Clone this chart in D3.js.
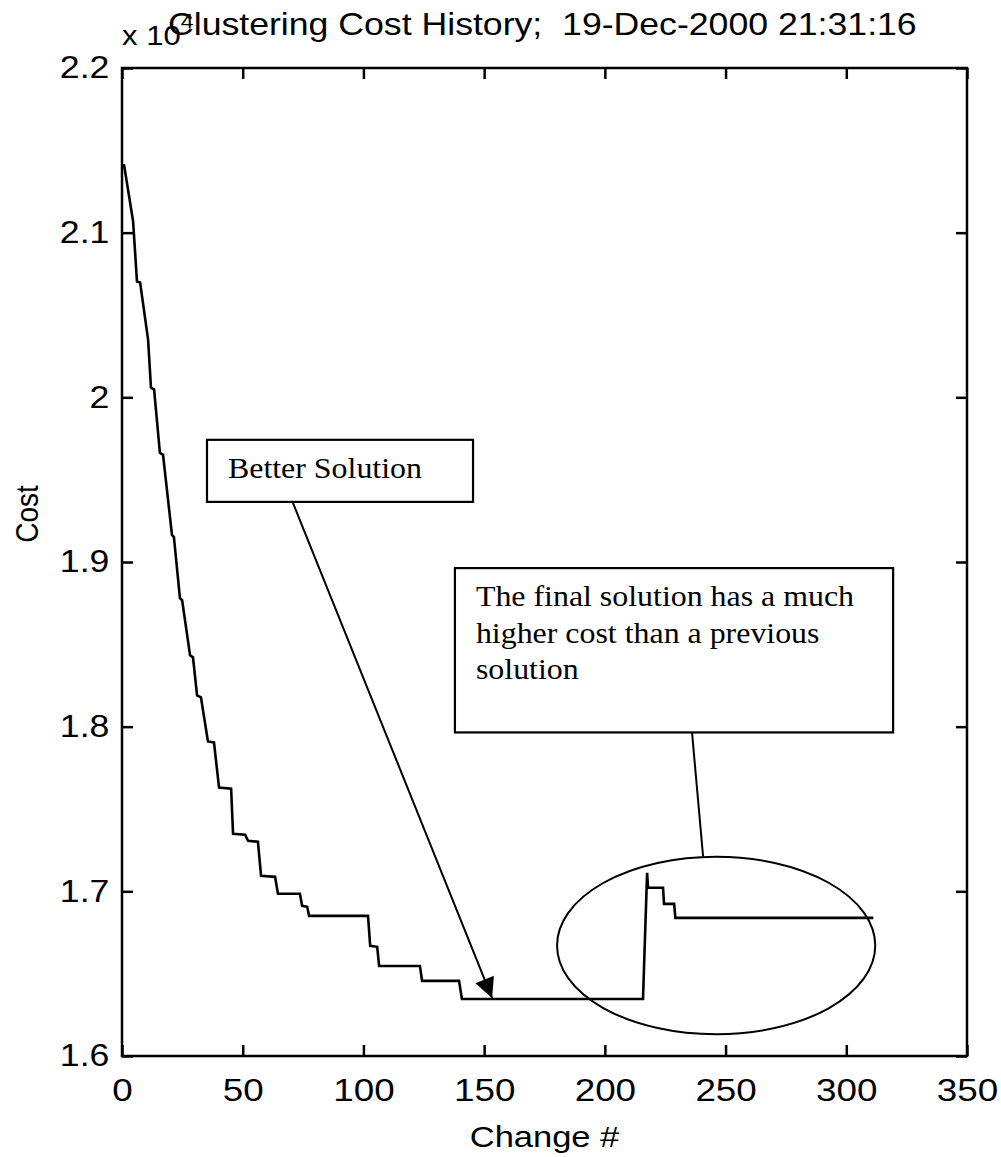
<!DOCTYPE html>
<html>
<head>
<meta charset="utf-8">
<script src="https://d3js.org/d3.v7.min.js"></script>
<style>
  body { margin: 0; background: #fff; }
  svg { display: block; }
  .axis text { font-family: "Liberation Sans", Arial, sans-serif; fill: #000; }
  .axis line { stroke: #000; stroke-width: 2.5; }
  .note { font-family: "Liberation Serif", "Times New Roman", serif; font-size: 29px; fill: #000; }
</style>
</head>
<body>
<div id="chart"></div>
<script>
// cost history (change number vs cost)
const changeNum = [0.8, 4.6, 6.2, 7.5, 10.8, 12.0, 13.3, 15.7, 17.0, 20.7, 21.5, 24.0, 24.9, 28.2, 29.4,
  31.1, 32.7, 35.6, 38.1, 40.2, 45.2, 46.0, 51.0, 52.2, 56.3, 57.6, 63.4, 64.6, 73.7, 74.6, 76.7, 77.5,
  101.9, 102.8, 105.7, 106.5, 123.4, 124.3, 139.6, 140.8, 215.8, 217.5, 217.9, 224.1, 224.5, 228.7,
  229.2, 311.2];
const cost = [21416, 21069, 20704, 20698, 20351, 20059, 20047, 19663, 19651, 19164, 19152, 18780, 18768,
  18433, 18421, 18190, 18178, 17910, 17904, 17630, 17624, 17350, 17344, 17307, 17301, 17094, 17088,
  16985, 16985, 16912, 16906, 16851, 16851, 16669, 16663, 16547, 16547, 16456, 16456, 16346, 16346,
  17113, 17022, 17022, 16924, 16924, 16839, 16839];

const xTicks = [0, 50, 100, 150, 200, 250, 300, 350];
const yTicks = [16000, 17000, 18000, 19000, 20000, 21000, 22000];

const titleText = "Clustering Cost History;  19-Dec-2000 21:31:16";
const xLabel = "Change #";
const yLabel = "Cost";

// annotations, in data units
const betterBox = { x0: 35.2, x1: 145.4, y0: 19742, y1: 19365, lines: ["Better Solution"] };
const finalBox = { x0: 137.9, x1: 319.4, y0: 18963, y1: 17965,
  lines: ["The final solution has a much", "higher cost than a previous", "solution"] };
const betterArrow = { from: [66.3, 19523], to: [153.3, 16352] };
const finalLine = { from: [236.1, 17965], to: [240.7, 17210] };
const ellipse = { cx: 246.1, cy: 16671, rx: 65.9, ry: 539 };

const width = 1001, height = 1157;
const margin = { top: 68, right: 34, bottom: 101, left: 122 };
// the scanned figure is a bit wider than tall, so text is stretched sideways
const sx = 1.15;

const svg = d3.select("#chart").append("svg")
  .attr("width", width)
  .attr("height", height);

svg.append("rect").attr("width", width).attr("height", height).attr("fill", "#fff");

const x = d3.scaleLinear().domain([0, 350]).range([margin.left, width - margin.right]);
const y = d3.scaleLinear().domain([16000, 22000]).range([height - margin.bottom, margin.top]);

const tickLen = 11;
const fmt = d => String(+(d / 1e4).toFixed(1));

// axes with inward ticks on all four sides
svg.append("g").attr("class", "axis")
  .attr("transform", `translate(0,${y(16000)})`)
  .call(d3.axisBottom(x).tickValues(xTicks).tickSizeInner(-tickLen).tickSizeOuter(0).tickPadding(22))
  .call(g => g.select(".domain").remove())
  .call(g => g.selectAll("text").style("font-size", "32px").attr("transform", `scale(${sx},1)`));

svg.append("g").attr("class", "axis")
  .attr("transform", `translate(0,${y(22000)})`)
  .call(d3.axisTop(x).tickValues(xTicks).tickSizeInner(-tickLen).tickSizeOuter(0).tickFormat(""))
  .call(g => g.select(".domain").remove());

svg.append("g").attr("class", "axis")
  .attr("transform", `translate(${x(0)},0)`)
  .call(d3.axisLeft(y).tickValues(yTicks).tickSizeInner(-tickLen).tickSizeOuter(0).tickPadding(11).tickFormat(fmt))
  .call(g => g.select(".domain").remove())
  .call(g => g.selectAll("text").style("font-size", "31px").attr("transform", `scale(${sx},1)`));

svg.append("g").attr("class", "axis")
  .attr("transform", `translate(${x(350)},0)`)
  .call(d3.axisRight(y).tickValues(yTicks).tickSizeInner(-tickLen).tickSizeOuter(0).tickFormat(""))
  .call(g => g.select(".domain").remove());

svg.append("rect")
  .attr("x", x(0)).attr("y", y(22000))
  .attr("width", x(350) - x(0)).attr("height", y(16000) - y(22000))
  .attr("fill", "none").attr("stroke", "#000").attr("stroke-width", 2.5);

// the cost curve
const line = d3.line().x((d, i) => x(changeNum[i])).y(d => y(d));
svg.append("path")
  .datum(cost)
  .attr("d", line)
  .attr("fill", "none")
  .attr("stroke", "#000")
  .attr("stroke-width", 2.6)
  .attr("stroke-linejoin", "miter");

// labels
const sans = "'Liberation Sans', Arial, sans-serif";
svg.append("text")
  .attr("transform", `translate(168,35) scale(${sx},1)`)
  .attr("font-family", sans).attr("font-size", 31)
  .style("white-space", "pre")
  .text(titleText);

const expo = svg.append("text")
  .attr("transform", `translate(122,45) scale(${sx},1)`)
  .attr("font-family", sans).attr("font-size", 27);
expo.append("tspan").text("x 10");
expo.append("tspan").attr("dy", -17).attr("font-size", 20).text("4");

svg.append("text")
  .attr("transform", `translate(${(x(0) + x(350)) / 2},1147) scale(${sx},1)`)
  .attr("text-anchor", "middle")
  .attr("font-family", sans).attr("font-size", 30)
  .text(xLabel);

svg.append("text")
  .attr("transform", `translate(38,514) scale(${sx},1) rotate(-90)`)
  .attr("text-anchor", "middle")
  .attr("font-family", sans).attr("font-size", 28)
  .text(yLabel);

// annotation boxes
function drawBox(b, lineGap) {
  svg.append("rect")
    .attr("x", x(b.x0)).attr("y", y(b.y0))
    .attr("width", x(b.x1) - x(b.x0)).attr("height", y(b.y1) - y(b.y0))
    .attr("fill", "#fff").attr("stroke", "#000").attr("stroke-width", 2.2);
  const t = svg.append("text").attr("class", "note")
    .attr("transform", `translate(${x(b.x0) + 21},${y(b.y0) + 38}) scale(1.1,1)`);
  b.lines.forEach((s, i) => {
    t.append("tspan").attr("x", 0).attr("y", i * lineGap).text(s);
  });
}

svg.append("line")
  .attr("x1", x(betterArrow.from[0])).attr("y1", y(betterArrow.from[1]))
  .attr("x2", x(betterArrow.to[0])).attr("y2", y(betterArrow.to[1]))
  .attr("stroke", "#000").attr("stroke-width", 2);

drawBox(betterBox, 36);
drawBox(finalBox, 36.5);

// arrow head at the "Better Solution" tip
{
  const x1 = x(betterArrow.from[0]), y1 = y(betterArrow.from[1]);
  const x2 = x(betterArrow.to[0]), y2 = y(betterArrow.to[1]);
  const a = Math.atan2(y2 - y1, x2 - x1);
  const L = 20, W = 10;
  const bx = x2 - L * Math.cos(a), by = y2 - L * Math.sin(a);
  const px = -Math.sin(a) * W, py = Math.cos(a) * W;
  svg.append("path")
    .attr("d", `M${x2},${y2}L${bx + px},${by + py}L${bx - px},${by - py}Z`)
    .attr("fill", "#000");
}

svg.append("line")
  .attr("x1", x(finalLine.from[0])).attr("y1", y(finalLine.from[1]))
  .attr("x2", x(finalLine.to[0])).attr("y2", y(finalLine.to[1]))
  .attr("stroke", "#000").attr("stroke-width", 2);

svg.append("ellipse")
  .attr("cx", x(ellipse.cx)).attr("cy", y(ellipse.cy))
  .attr("rx", x(ellipse.rx) - x(0)).attr("ry", y(16000) - y(16000 + ellipse.ry))
  .attr("fill", "none").attr("stroke", "#000").attr("stroke-width", 2);
</script>
</body>
</html>
